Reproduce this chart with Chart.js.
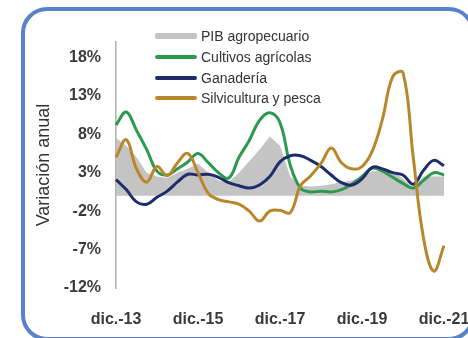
<!DOCTYPE html>
<html>
<head>
<meta charset="utf-8">
<script src="https://cdn.jsdelivr.net/npm/chart.js@4.4.1/dist/chart.umd.min.js"></script>
<style>
  html, body { margin: 0; padding: 0; background: #fff; overflow: hidden; }
  #wrap { position: relative; width: 468px; height: 338px; overflow: hidden; }
  #frame { position: absolute; left: 21px; top: 7px; width: 454px; height: 334px; box-sizing: border-box;
           border: 4px solid #5a82c8; border-radius: 26px; pointer-events: none; }
  #c { position: absolute; left: 0; top: 0; }
  #legend { position: absolute; left: 155px; top: 26px; font: 14px "Liberation Sans", Arial, sans-serif; color: #333; }
  .row { display: flex; align-items: center; height: 20.7px; }
  .sw { width: 42px; margin-right: 4px; border-radius: 2px; }
</style>
</head>
<body>
<div id="wrap">
  <canvas id="c" width="468" height="338"></canvas>
  <div id="legend"></div>
  <div id="frame"></div>
</div>
<script>
// Quarterly categories, dic.-13 .. dic.-21
const categories = [
  'dic.-13','mar.-14','jun.-14','sep.-14','dic.-14','mar.-15','jun.-15','sep.-15',
  'dic.-15','mar.-16','jun.-16','sep.-16','dic.-16','mar.-17','jun.-17','sep.-17',
  'dic.-17','mar.-18','jun.-18','sep.-18','dic.-18','mar.-19','jun.-19','sep.-19',
  'dic.-19','mar.-20','jun.-20','sep.-20','dic.-20','mar.-21','jun.-21','sep.-21',
  'dic.-21'
];
const seriesNames = ['PIB agropecuario', 'Cultivos agrícolas', 'Ganadería', 'Silvicultura y pesca'];
const pibAgro = [7.5, 6.5, 5.0, 3.0, 2.5, 2.3, 3.0, 3.5, 4.2, 3.0, 2.0, 1.8, 3.0, 4.5, 6.0, 7.7,
                 6.5, 2.5, 1.3, 1.2, 1.3, 1.5, 1.8, 2.0, 2.5, 3.2, 3.3, 3.2, 2.2, 1.0, 2.5, 2.5, 2.5];
const cultivos = [9.2, 10.9, 8.5, 6.0, 3.2, 2.7, 3.5, 4.4, 5.5, 4.3, 3.0, 2.3, 5.0, 7.2, 9.8, 10.8,
                  9.5, 4.0, 1.0, 0.5, 0.6, 0.5, 0.8, 1.5, 2.5, 3.6, 3.2, 2.4, 1.6, 1.0, 2.0, 3.0, 2.7];
const ganaderia = [2.1, 0.8, -0.8, -1.1, -0.2, 0.6, 1.8, 2.8, 2.7, 2.8, 2.4, 1.7, 1.3, 1.0, 1.4, 2.5,
                   4.4, 5.2, 5.2, 4.6, 3.8, 2.7, 1.7, 1.4, 2.2, 3.7, 3.5, 3.0, 2.7, 1.5, 3.3, 4.6, 3.9];
const silvicultura = [5.0, 7.3, 3.5, 1.8, 3.8, 2.6, 4.3, 5.5, 3.0, 0.3, -0.5, -0.8, -1.1, -2.0, -3.3, -2.0,
                      -1.9, -2.2, 1.3, 2.6, 4.2, 6.2, 4.3, 3.5, 3.8, 5.8, 10.0, 15.5, 16.0, 5.0, -5.5, -9.8, -6.5];
const yTicks = [-12, -7, -2, 3, 8, 13, 18];
const xTickLabels = ['dic.-13', 'dic.-15', 'dic.-17', 'dic.-19', 'dic.-21'];

const colors = ['#c4c4c4', '#2b9a4e', '#1f2c6b', '#b8872c'];

const ctx = document.getElementById('c').getContext('2d');
new Chart(ctx, {
  type: 'line',
  data: {
    labels: categories,
    datasets: [
      { label: seriesNames[0], data: pibAgro, borderColor: colors[0], backgroundColor: colors[0],
        borderWidth: 0, fill: 'origin', tension: 0, pointRadius: 0, order: 10 },
      { label: seriesNames[1], data: cultivos, borderColor: colors[1], borderWidth: 3,
        fill: false, tension: 0.4, pointRadius: 0, order: 3 },
      { label: seriesNames[2], data: ganaderia, borderColor: colors[2], borderWidth: 3,
        fill: false, tension: 0.4, pointRadius: 0, order: 2 },
      { label: seriesNames[3], data: silvicultura, borderColor: colors[3], borderWidth: 3,
        fill: false, tension: 0.4, pointRadius: 0, order: 1 }
    ]
  },
  options: {
    responsive: false,
    animation: false,
    layout: { padding: { left: 33, top: 42, right: 24, bottom: 0 } },
    plugins: { legend: { display: false }, tooltip: { enabled: false } },
    scales: {
      x: {
        type: 'category',
        offset: false,
        grid: { display: false },
        border: { display: false },
        ticks: {
          autoSkip: false, maxRotation: 0, padding: 14,
          color: '#3a3a3a', font: { family: '"Liberation Sans", Arial, sans-serif', size: 16, weight: 'bold' },
          callback: function (v, i) { const l = categories[i]; return xTickLabels.includes(l) ? l : ''; }
        },
        afterFit: function (s) { s.height = 50; s.paddingRight = 0; s.paddingLeft = 0; }
      },
      y: {
        min: -12, max: 20,
        grid: { display: false, drawTicks: false },
        border: { display: true, color: '#b0b0b0', width: 1.5 },
        ticks: {
          padding: 15, color: '#3a3a3a',
          font: { family: '"Liberation Sans", Arial, sans-serif', size: 16, weight: 'bold' },
          callback: function (v) { return v + '%'; }
        },
        afterBuildTicks: function (s) { s.ticks = yTicks.map(v => ({ value: v })); },
        title: { display: true, text: 'Variación anual', color: '#333', padding: 0,
                 font: { family: '"Liberation Sans", Arial, sans-serif', size: 18 } },
        afterFit: function (s) { s.width = 83; s.paddingTop = 0; s.paddingBottom = 0; }
      }
    }
  }
});

// HTML legend built from series names and colours
const lg = document.getElementById('legend');
seriesNames.forEach((n, i) => {
  const r = document.createElement('div'); r.className = 'row';
  const sw = document.createElement('span'); sw.className = 'sw';
  sw.style.height = (i === 0 ? 6 : 4) + 'px'; sw.style.background = colors[i];
  const t = document.createElement('span'); t.textContent = n;
  r.appendChild(sw); r.appendChild(t); lg.appendChild(r);
});
</script>
</body>
</html>
